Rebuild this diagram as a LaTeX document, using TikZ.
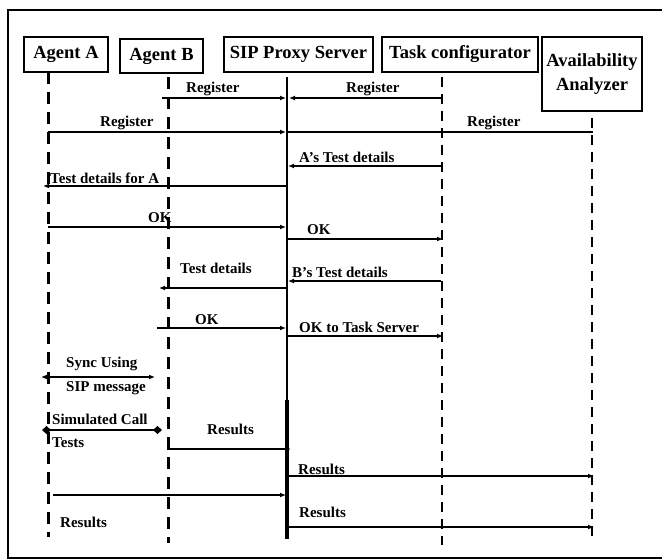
\documentclass[tikz,border=0pt]{standalone}
\usepackage{fontspec}
\setmainfont{Liberation Serif}
\usetikzlibrary{arrows.meta}
\begin{document}
\begin{tikzpicture}[x=1pt,y=-1pt,
  hdr/.style={draw,line width=1.4pt,inner sep=0pt,align=center,font=\fontsize{18.5}{20}\selectfont\bfseries},
  lbl/.style={inner sep=0pt,anchor=west,font=\fontsize{15}{16}\selectfont\bfseries},
  lifethick/.style={line width=3pt,dash pattern=on 12pt off 8pt},
  lifethin/.style={line width=2pt,dash pattern=on 10pt off 7pt},
  msg/.style={line width=1.8pt,-{Latex[length=6pt,width=5pt]}},
  plain/.style={line width=1.8pt},
  both/.style={line width=1.8pt,{Latex[length=6pt,width=5pt]}-{Latex[length=6pt,width=5pt]}},
  diam/.style={line width=1.8pt,{Diamond[length=9pt,width=8pt]}-{Diamond[length=9pt,width=8pt]}}
]
\useasboundingbox (0,0) rectangle (662,559);
\fill[white] (0,0) rectangle (662,559);
% frame
\draw[line width=1.8pt] (662,10) -- (8,10) -- (8,558) -- (662,558);

% headers
\node[hdr,minimum width=84pt,minimum height=35pt] (ha) at (66,54.5) {Agent A};
\node[hdr,minimum width=83pt,minimum height=34pt] (hb) at (161.5,56) {Agent B};
\node[hdr,minimum width=149pt,minimum height=35pt] (hs) at (298.5,54.5) {SIP Proxy Server};
\node[hdr,minimum width=156pt,minimum height=35pt] (ht) at (460,54.5) {Task configurator};
\node[hdr,minimum width=100pt,minimum height=74pt] (hv) at (592,74) {Availability\\[4pt]Analyzer};

% lifeline ends
\coordinate (a0) at (48,72);   \coordinate (a9) at (48,537);
\coordinate (b0) at (168,77);  \coordinate (b9) at (168,543);
\coordinate (s0) at (287,77);  \coordinate (sm) at (287,400); \coordinate (s9) at (287,539);
\coordinate (t0) at (442,77);  \coordinate (t9) at (442,545);
\coordinate (v0) at (592,118); \coordinate (v9) at (592,537);

\draw[lifethick] (a0) -- (a9);
\draw[lifethick] (b0) -- (b9);
\draw[line width=2pt] (s0) -- (sm);
\draw[line width=3.5pt] (sm) -- (s9);
\draw[lifethin] (t0) -- (t9);
\draw[lifethin,line width=2.5pt] (v0) -- (v9);

% message end points
\coordinate (m1a) at (162,98);  \coordinate (m1b) at (286,98);
\coordinate (m2a) at (442,98);  \coordinate (m2b) at (289,98);
\coordinate (m3a) at (48,132);  \coordinate (m3b) at (286,132);
\coordinate (m4a) at (287,132); \coordinate (m4b) at (593,132);
\coordinate (m5a) at (441,166); \coordinate (m5b) at (288,166);
\coordinate (m6a) at (287,186); \coordinate (m6b) at (43,186);
\coordinate (m7a) at (48,227);  \coordinate (m7b) at (286,227);
\coordinate (m8a) at (288,239); \coordinate (m8b) at (443,239);
\coordinate (m9a) at (441,281); \coordinate (m9b) at (288,281);
\coordinate (m10a) at (287,288); \coordinate (m10b) at (159,288);
\coordinate (m11a) at (157,328); \coordinate (m11b) at (286,328);
\coordinate (m12a) at (288,336); \coordinate (m12b) at (443,336);
\coordinate (m13a) at (41,377); \coordinate (m13b) at (155,377);
\coordinate (m14a) at (42,430); \coordinate (m14b) at (162,430);
\coordinate (m15a) at (168,438); \coordinate (m15b) at (291,449);
\coordinate (m16a) at (288,476); \coordinate (m16b) at (594,476);
\coordinate (m17a) at (53,495);  \coordinate (m17b) at (286,495);
\coordinate (m18a) at (288,527); \coordinate (m18b) at (594,527);

\draw[msg] (m1a) -- (m1b);
\draw[msg] (m2a) -- (m2b);
\draw[msg] (m3a) -- (m3b);
\draw[plain] (m4a) -- (m4b);
\draw[msg] (m5a) -- (m5b);
\draw[msg] (m6a) -- (m6b);
\draw[msg] (m7a) -- (m7b);
\draw[msg] (m8a) -- (m8b);
\draw[msg] (m9a) -- (m9b);
\draw[msg] (m10a) -- (m10b);
\draw[msg] (m11a) -- (m11b);
\draw[msg] (m12a) -- (m12b);
\draw[both] (m13a) -- (m13b);
\draw[diam] (m14a) -- (m14b);
\draw[msg] (m15a) |- (m15b);
\draw[msg] (m16a) -- (m16b);
\draw[msg] (m17a) -- (m17b);
\draw[msg] (m18a) -- (m18b);

% labels
\node[lbl] (l1) at (186,89) {Register};
\node[lbl] (l2) at (346,89) {Register};
\node[lbl] (l3) at (100,123) {Register};
\node[lbl] (l4) at (467,123) {Register};
\node[lbl] (l5) at (299,157) {A’s Test details};
\node[lbl] (l6) at (50,178) {Test details for A};
\node[lbl] (l7) at (148,218) {OK};
\node[lbl] (l8) at (307,230) {OK};
\node[lbl] (l9) at (180,268) {Test details};
\node[lbl] (l10) at (292,272) {B’s Test details};
\node[lbl] (l11) at (195,320) {OK};
\node[lbl] (l12) at (299,327) {OK to Task Server};
\node[lbl] (l13) at (66,364) {Sync Using};
\node[lbl] (l14) at (66,388) {SIP message};
\node[lbl] (l15) at (52,419) {Simulated Call};
\node[lbl] (l16) at (52,443) {Tests};
\node[lbl] (l17) at (207,429) {Results};
\node[lbl] (l18) at (298,469) {Results};
\node[lbl] (l19) at (299,512) {Results};
\node[lbl] (l20) at (60,522) {Results};
\end{tikzpicture}
\end{document}
